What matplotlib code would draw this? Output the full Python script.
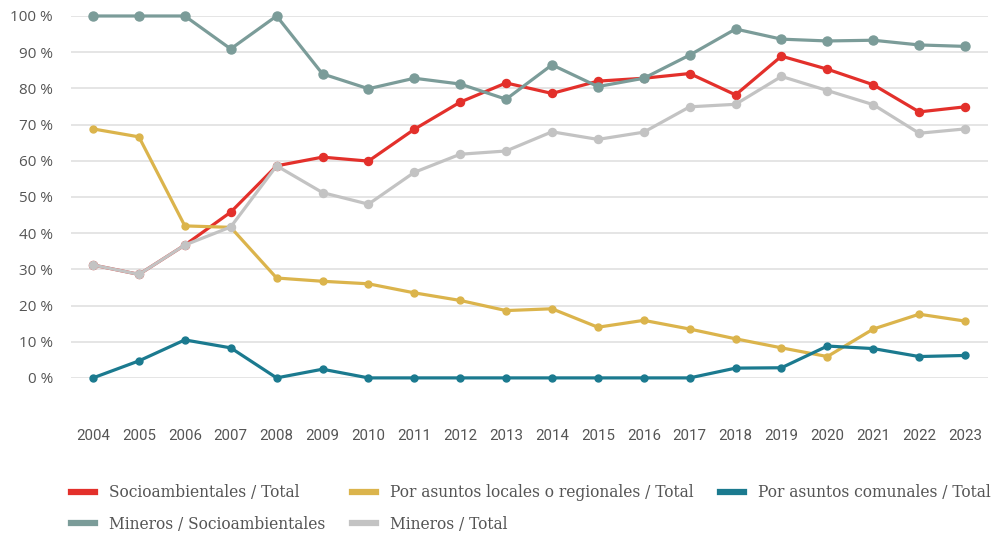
import matplotlib
matplotlib.use("Agg")
import matplotlib.pyplot as plt

# shares per year, in percent
years = list(range(2004, 2024))

socio_total = [31.2, 28.6, 36.7, 45.8, 58.6, 61.0, 59.9, 68.7, 76.2, 81.5,
               78.6, 82.0, 82.8, 84.1, 78.2, 88.9, 85.3, 81.0, 73.5, 74.9]
locales_total = [68.8, 66.6, 42.0, 41.6, 27.6, 26.7, 26.0, 23.5, 21.4, 18.6,
                 19.1, 14.0, 15.9, 13.5, 10.8, 8.3, 5.9, 13.5, 17.6, 15.7]
comunales_total = [0.0, 4.7, 10.5, 8.3, 0.0, 2.4, 0.0, 0.0, 0.0, 0.0,
                   0.0, 0.0, 0.0, 0.0, 2.7, 2.8, 8.8, 8.1, 5.9, 6.2]
mineros_socio = [100.0, 100.0, 100.0, 90.9, 100.0, 84.0, 79.9, 82.8, 81.2, 77.0,
                 86.5, 80.5, 82.8, 89.2, 96.4, 93.6, 93.1, 93.3, 92.0, 91.6]
mineros_total = [31.2, 28.6, 36.7, 41.7, 58.6, 51.2, 48.0, 56.8, 61.8, 62.7,
                 68.0, 65.9, 67.9, 74.9, 75.6, 83.3, 79.4, 75.5, 67.6, 68.8]

yticks = [0, 10, 20, 30, 40, 50, 60, 70, 80, 90, 100]

RED = "#e3302b"
YELLOW = "#dbb44c"
TEAL = "#1b7a8f"
GRAYTEAL = "#7b9c99"
GRAY = "#c3c3c3"
TEXT = "#555555"

fig = plt.figure(figsize=(10, 5.33), dpi=100)
ax = fig.add_axes([0.071, 0.291, 0.917, 0.679])

lines = {}
lines["socio"], = ax.plot(years, socio_total, color=RED, lw=2.3, marker="o", ms=5.8,
                          label="Socioambientales / Total", clip_on=False, zorder=3)
lines["loc"], = ax.plot(years, locales_total, color=YELLOW, lw=2.3, marker="o", ms=5,
                        label="Por asuntos locales o regionales / Total", clip_on=False, zorder=3)
lines["com"], = ax.plot(years, comunales_total, color=TEAL, lw=2.3, marker="o", ms=5,
                        label="Por asuntos comunales / Total", clip_on=False, zorder=3)
lines["msocio"], = ax.plot(years, mineros_socio, color=GRAYTEAL, lw=2.3, marker="o", ms=6.5,
                           label="Mineros / Socioambientales", clip_on=False, zorder=4)
lines["mtot"], = ax.plot(years, mineros_total, color=GRAY, lw=2.3, marker="o", ms=5.8,
                         label="Mineros / Total", clip_on=False, zorder=5)

ax.set_xlim(2003.52, 2023.5)
ax.set_ylim(0, 100)
ax.set_yticks(yticks)
ax.set_yticklabels([f"{v} %" for v in yticks], fontsize=11, color=TEXT, family="Open Sans")
ax.set_xticks(years)
ax.set_xticklabels([str(y) for y in years], fontsize=10.8, color=TEXT, family="Roboto")
ax.tick_params(axis="y", length=0, pad=13)
ax.tick_params(axis="x", length=0, pad=37)
ax.grid(axis="y", color="#e0e0e0", lw=1.2)
ax.set_axisbelow(True)
for s in ax.spines.values():
    s.set_visible(False)

order = ["socio", "msocio", "loc", "mtot", "com"]
handles = [plt.Line2D([], [], color=lines[k].get_color(), lw=4.5) for k in order]
labels = [lines[k].get_label() for k in order]
leg = fig.legend(handles, labels, ncol=3, loc="upper left", bbox_to_anchor=(0.057, 0.118),
                 frameon=False, handlelength=1.55, handletextpad=0.9, columnspacing=1.7,
                 labelspacing=0.95, prop={"family": "DejaVu Serif", "size": 11.2})
for t in leg.get_texts():
    t.set_color(TEXT)

fig.savefig("out.png", dpi=100)
